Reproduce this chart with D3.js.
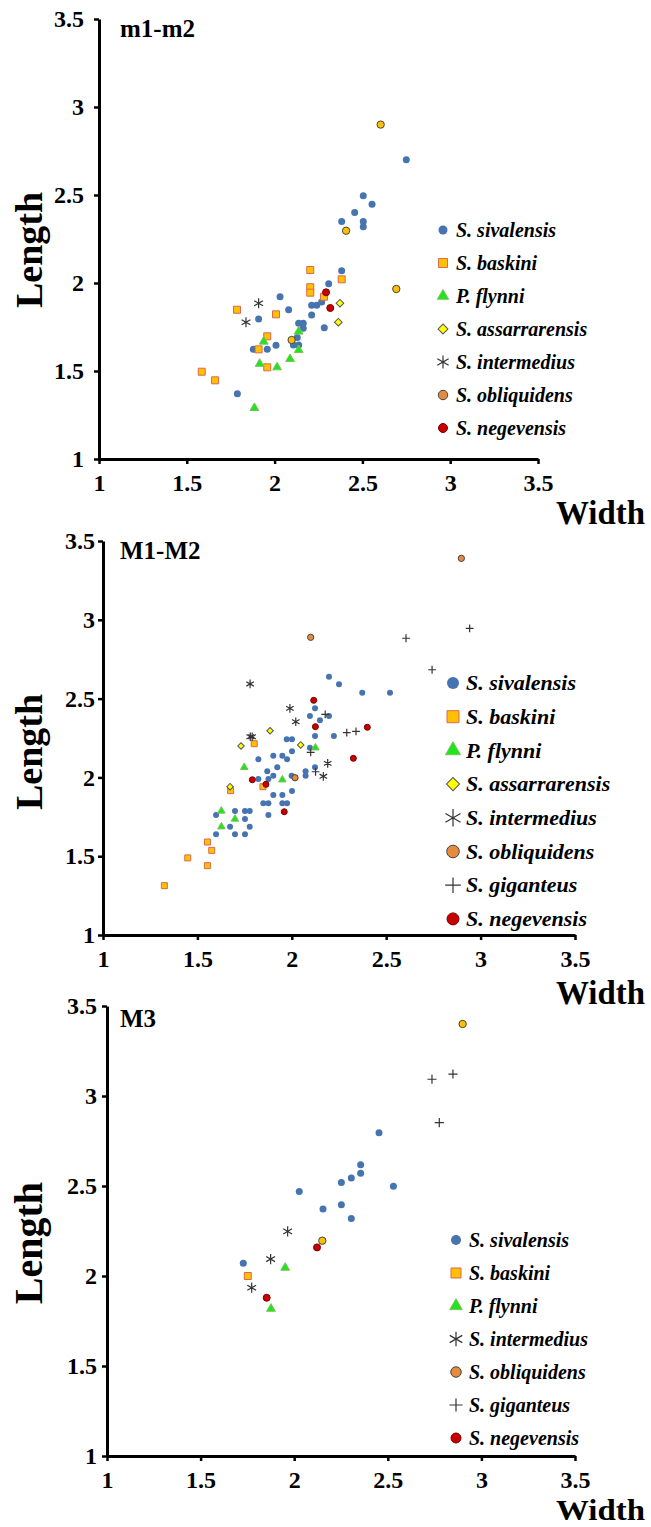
<!DOCTYPE html>
<html>
<head>
<meta charset="utf-8">
<script src="https://cdn.jsdelivr.net/npm/d3@7"></script>
<style>
body { margin:0; background:#fff; }
text { font-family: "Liberation Serif", "Times New Roman", serif; font-weight:bold; }
</style>
</head>
<body>
<svg id="chart" width="651" height="1527"></svg>
<script>
var ticks = [1, 1.5, 2, 2.5, 3, 3.5];
var titles = ['m1-m2', 'M1-M2', 'M3'];
var species = ['S. sivalensis', 'S. baskini', 'P. flynni', 'S. assarrarensis',
               'S. intermedius', 'S. obliquidens', 'S. giganteus', 'S. negevensis'];

// m1-m2  [width, length]
var m12_sivalensis = [[2.75,2.70],[2.505,2.496],[2.555,2.447],[2.456,2.40],[2.382,2.35],[2.505,2.35],
  [2.505,2.32],[2.382,2.07],[2.308,1.996],[2.031,1.922],[2.08,1.848],[1.909,1.795],[2.211,1.873],
  [2.24,1.873],[2.268,1.892],[2.211,1.818],[2.137,1.771],[2.163,1.771],[2.163,1.743],[2.283,1.746],
  [2.129,1.691],[2.107,1.648],[2.137,1.648],[1.879,1.623],[1.958,1.623],[2.008,1.646],[1.788,1.371]];
var m12_baskini = [[2.203,2.074],[2.382,2.021],[2.203,1.976],[2.203,1.945],[2.281,1.922],[1.786,1.848],
  [2.008,1.822],[1.958,1.697],[1.909,1.623],[1.958,1.521],[1.585,1.496],[1.661,1.447]];
var m12_flynni = [[2.137,1.724],[1.938,1.667],[2.088,1.568],[2.137,1.619],[1.915,1.541],[2.014,1.521],[1.885,1.29]];
var m12_assarrarensis = [[2.372,1.885],[2.363,1.777]];
var m12_intermedius = [[1.909,1.885],[1.837,1.777]];
var m12_obliquidens = [[2.604,2.90],[2.407,2.297],[2.693,1.966],[2.097,1.676]];
var m12_negevensis = [[2.293,1.947],[2.317,1.858]];

// M1-M2
var M12_sivalensis = [[2.197,2.639],[2.25,2.591],[2.373,2.537],[2.52,2.537],[2.123,2.438],[2.096,2.39],
  [2.149,2.362],[2.197,2.39],[2.123,2.263],[2.223,2.263],[1.973,2.242],[2.001,2.242],[2.001,2.166],
  [2.096,2.188],[1.902,2.138],[1.95,2.138],[1.975,2.115],[1.823,2.115],[1.923,2.064],[1.87,2.039],
  [2.073,2.039],[2.123,2.064],[2.073,2.011],[1.823,1.99],[1.876,1.99],[1.902,2.011],[1.999,2.011],
  [2.001,1.914],[1.902,1.888],[1.95,1.888],[1.849,1.836],[1.876,1.836],[1.95,1.836],[1.975,1.836],
  [1.876,1.761],[1.699,1.787],[1.752,1.787],[1.777,1.787],[1.599,1.761],[1.752,1.736],[1.673,1.687],
  [1.777,1.687],[1.599,1.639],[1.699,1.639],[1.752,1.639]];
var M12_baskini = [[1.801,2.214],[1.847,1.941],[1.676,1.916],[1.325,1.313],[1.449,1.489],[1.553,1.59],
  [1.576,1.537],[1.553,1.44]];
var M12_flynni = [[2.125,2.188],[1.748,2.064],[1.95,1.985],[1.627,1.787],[1.699,1.736],[1.627,1.687]];
var M12_assarrarensis = [[1.885,2.296],[1.731,2.199],[2.047,2.206],[1.673,1.941]];
var M12_intermedius = [[1.779,2.593],[1.99,2.438],[2.021,2.353],[1.78,2.258],[1.79,2.258],[2.19,2.089],[2.167,2.007]];
var M12_obliquidens = [[2.898,3.39],[2.10,2.889],[2.017,1.998]];
var M12_giganteus = [[2.942,2.946],[2.605,2.883],[2.743,2.683],[2.291,2.284],[2.34,2.292],[2.177,2.40],
  [2.10,2.159],[2.126,2.036]];
var M12_negevensis = [[2.116,2.489],[2.125,2.322],[2.40,2.318],[2.326,2.121],[1.791,1.985],[1.863,1.956],[1.96,1.782]];

// M3
var M3_sivalensis = [[2.453,2.796],[2.355,2.618],[2.355,2.571],[2.305,2.544],[2.252,2.52],[2.53,2.498],
  [2.027,2.47],[2.154,2.372],[2.252,2.396],[2.305,2.32],[1.728,2.071]];
var M3_baskini = [[1.752,2.0]];
var M3_flynni = [[1.952,2.046],[1.876,1.818]];
var M3_intermedius = [[1.965,2.248],[1.874,2.094],[1.773,1.935]];
var M3_obliquidens = [[2.9,3.4],[2.15,2.196]];
var M3_giganteus = [[2.736,3.093],[2.848,3.122],[2.775,2.852]];
var M3_negevensis = [[2.122,2.159],[1.853,1.879]];

// marker styles, one per species
var styles = {
  'S. sivalensis':    {shape:'circle',   fill:'#4674b0', stroke:'#4674b0', k:1},
  'S. baskini':       {shape:'square',   fill:'#ffc000', stroke:'#d9694f', k:1},
  'P. flynni':        {shape:'triangle', fill:'#1ee61e', stroke:'#7fbf5a', k:1.1},
  'S. assarrarensis': {shape:'diamond',  fill:'#ffff00', stroke:'#555',    k:1},
  'S. intermedius':   {shape:'asterisk', fill:'none',    stroke:'#333',    k:1.45},
  'S. obliquidens':   {shape:'circle',   fill:'#e48b3e', stroke:'#444',    k:1.05},
  'S. giganteus':     {shape:'plus',     fill:'none',    stroke:'#333',    k:1.3},
  'S. negevensis':    {shape:'circle',   fill:'#c80000', stroke:'#700',    k:1}
};

var panels = [
  {title:titles[0], x0:99, x1:538, yTop:19, yBot:459, pad:10, titleY:37, lenY:250, lenSize:38, widthY:524, widthSize:34,
   legX:443, legY:230, legStep:33, legFont:20, legMark:9, pt:7, obliqFill:'#ffc000',
   series:[m12_sivalensis, m12_baskini, m12_flynni, m12_assarrarensis, m12_intermedius, m12_obliquidens, null, m12_negevensis]},
  {title:titles[1], x0:103, x1:575, yTop:541, yBot:935, pad:3, titleY:559, lenY:752, lenSize:38, widthY:1004, widthSize:34,
   legX:453, legY:683, legStep:33.7, legFont:22, legMark:12, pt:6, obliqFill:'#e48b3e',
   series:[M12_sivalensis, M12_baskini, M12_flynni, M12_assarrarensis, M12_intermedius, M12_obliquidens, M12_giganteus, M12_negevensis]},
  {title:titles[2], x0:107, x1:575, yTop:1006, yBot:1456, pad:5, titleY:1027, lenY:1243, lenSize:40, widthY:1520, widthSize:30,
   legX:456, legY:1240, legStep:33, legFont:20, legMark:10, pt:7, obliqFill:'#ffc000',
   series:[M3_sivalensis, M3_baskini, M3_flynni, null, M3_intermedius, M3_obliquidens, M3_giganteus, M3_negevensis]}
];

// d = nominal diameter in px
function symbolPath(shape, d) {
  var type, size;
  if (shape == 'circle') { type = d3.symbolCircle; size = Math.PI * d * d / 4; }
  else if (shape == 'square') { type = d3.symbolSquare; size = d * d; }
  else if (shape == 'triangle') { type = d3.symbolTriangle; size = Math.sqrt(3) / 4 * d * d * 1.3; }
  else if (shape == 'diamond') { type = d3.symbolSquare; size = d * d * 0.6; }
  else if (shape == 'asterisk') { type = d3.symbolAsterisk; size = Math.pow(d / 2 / 0.59436, 2) - 0.75; }
  else { type = d3.symbolPlus; size = Math.pow(d / 2 / 0.87559, 2) + 2; }
  return d3.symbol().type(type).size(size)();
}

function drawMarker(g, name, x, y, d, fillOverride) {
  var st = styles[name];
  var p = g.append('path')
    .attr('d', symbolPath(st.shape, d * st.k))
    .attr('transform', 'translate(' + x + ',' + y + ')' + (st.shape == 'diamond' ? ' rotate(45)' : ''))
    .attr('fill', fillOverride || st.fill)
    .attr('stroke', st.stroke);
  if (st.shape == 'asterisk' || st.shape == 'plus') p.attr('stroke-width', 1.2);
  else p.attr('stroke-width', st.shape == 'circle' && name == 'S. sivalensis' ? 0 : 1);
}

var svg = d3.select('#chart');

panels.forEach(function(p) {
  var x = d3.scaleLinear().domain([1, 3.5]).range([p.x0, p.x1]);
  var y = d3.scaleLinear().domain([1, 3.5]).range([p.yBot, p.yTop]);
  var g = svg.append('g');

  var xa = g.append('g')
    .attr('transform', 'translate(0,' + p.yBot + ')')
    .call(d3.axisBottom(x).tickValues(ticks).tickSize(5).tickSizeOuter(0).tickPadding(10).tickFormat(function(d){ return d; }));
  var ya = g.append('g')
    .attr('transform', 'translate(' + p.x0 + ',0)')
    .call(d3.axisLeft(y).tickValues(ticks).tickSize(5).tickSizeOuter(0).tickPadding(p.pad).tickFormat(function(d){ return d; }));
  [xa, ya].forEach(function(a) {
    a.attr('font-family', '"Liberation Serif", serif').attr('font-size', 24).attr('font-weight', 'bold');
    a.select('.domain').attr('stroke', '#000').attr('stroke-width', 3);
    a.selectAll('.tick line').attr('stroke', '#000').attr('stroke-width', 2.5);
    a.selectAll('.tick text')
      .attr('fill', '#000')
      .style('font-size', '24px')
      .style('font-family', '"Liberation Serif", serif')
      .style('font-weight', '700');
  });

  g.append('text').attr('x', 120).attr('y', p.titleY)
    .style('font-size', '25px').text(p.title);

  g.append('text')
    .attr('transform', 'translate(42,' + p.lenY + ') rotate(-90)')
    .attr('text-anchor', 'middle')
    .style('font-size', p.lenSize + 'px')
    .text('Length');

  g.append('text').attr('x', 645).attr('y', p.widthY)
    .attr('text-anchor', 'end')
    .style('font-size', p.widthSize + 'px')
    .attr('textLength', 89).attr('lengthAdjust', 'spacingAndGlyphs')
    .text('Width');

  // points
  var pg = g.append('g');
  p.series.forEach(function(pts, i) {
    if (!pts) return;
    var name = species[i];
    pts.forEach(function(v) {
      drawMarker(pg, name, x(v[0]), y(v[1]), p.pt, name == 'S. obliquidens' ? p.obliqFill : null);
    });
  });

  // legend
  var lg = g.append('g');
  var row = 0;
  p.series.forEach(function(pts, i) {
    if (!pts) return;
    var ly = p.legY + row * p.legStep;
    drawMarker(lg, species[i], p.legX, ly, p.legMark, null);
    lg.append('text')
      .attr('x', p.legX + 13).attr('y', ly + p.legFont * 0.33)
      .style('font-size', p.legFont + 'px')
      .style('font-style', 'italic')
      .style('font-weight', '700')
      .text(species[i]);
    row++;
  });
});
</script>
</body>
</html>
